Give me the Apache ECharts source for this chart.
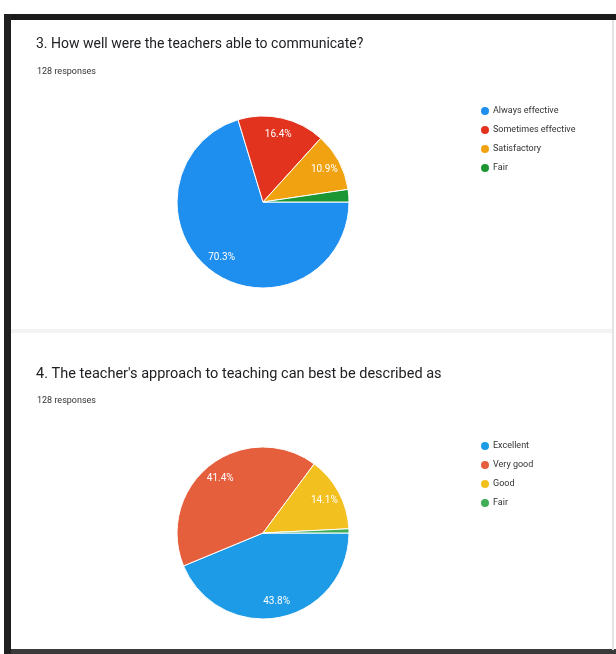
<!DOCTYPE html>
<html>
<head>
<meta charset="utf-8">
<script src="https://cdn.jsdelivr.net/npm/echarts@6/dist/echarts.min.js"></script>
<style>
html,body{margin:0;padding:0;background:#fff;}
#c{width:616px;height:654px;}
</style>
</head>
<body>
<div id="c"></div>
<script>
// Chart 1
var title1 = "3. How well were the teachers able to communicate?";
var sub1 = "128 responses";
var cats1 = ["Always effective", "Sometimes effective", "Satisfactory", "Fair"];
var vals1 = [90, 21, 14, 3];
var colors1 = ["#1f8fef", "#e2331f", "#f0a211", "#1b9632"];

// Chart 2
var title2 = "4. The teacher's approach to teaching can best be described as";
var sub2 = "128 responses";
var cats2 = ["Excellent", "Very good", "Good", "Fair"];
var vals2 = [56, 53, 18, 1];
var colors2 = ["#1e9be6", "#e65f3d", "#f2c01f", "#41ae57"];

function buildData(cats, vals, colors) {
  return cats.map(function (c, i) {
    return { name: c, value: vals[i], itemStyle: { color: colors[i] } };
  });
}
function total(vals) { return vals.reduce(function (a, b) { return a + b; }, 0); }

function pctLabel(vals) {
  var t = total(vals);
  return function (p) {
    var pct = p.value / t * 100;
    return pct < 5 ? '' : pct.toFixed(1) + '%';
  };
}

var chart = echarts.init(document.getElementById('c'), null, { renderer: 'canvas' });

function pieSeries(cats, vals, colors, center, r) {
  return [{
    type: 'pie',
    center: center,
    radius: [0, r],
    startAngle: 0,
    clockwise: true,
    avoidLabelOverlap: false,
    silent: true,
    label: { show: false },
    labelLine: { show: false },
    itemStyle: { borderColor: '#ffffff', borderWidth: 1 },
    data: buildData(cats, vals, colors)
  }, {
    type: 'pie',
    center: center,
    radius: [Math.round(r * 0.55), r],
    startAngle: 0,
    clockwise: true,
    avoidLabelOverlap: false,
    silent: true,
    legendHoverLink: false,
    label: {
      show: true, position: 'inside', color: '#ffffff',
      fontSize: 10, fontFamily: 'Roboto', formatter: pctLabel(vals)
    },
    labelLine: { show: false },
    itemStyle: { color: 'rgba(0,0,0,0)', borderWidth: 0 },
    emphasis: { disabled: true },
    data: cats.map(function (c, i) { return { name: c, value: vals[i] }; })
  }];
}

var option = {
  backgroundColor: '#ffffff',
  animation: false,
  title: [
    { text: title1, left: 31, top: 32, textStyle: { fontFamily: 'Roboto', fontSize: 14, fontWeight: 'normal', color: '#202124' } },
    { text: sub1, left: 32, top: 62, textStyle: { fontFamily: 'Roboto', fontSize: 9, fontWeight: 'normal', color: '#333' } },
    { text: title2, left: 31, top: 362, textStyle: { fontFamily: 'Roboto', fontSize: 14.5, fontWeight: 'normal', color: '#202124' } },
    { text: sub2, left: 32, top: 391, textStyle: { fontFamily: 'Roboto', fontSize: 9, fontWeight: 'normal', color: '#333' } }
  ],
  legend: [
    {
      seriesIndex: 0,
      data: cats1.map(function (c, i) { return { name: c, itemStyle: { color: colors1[i] } }; }),
      orient: 'vertical', left: 474, top: 100, icon: 'circle',
      itemWidth: 10, itemHeight: 10, itemGap: 7, selectedMode: false,
      textStyle: { fontFamily: 'Roboto', fontSize: 9, color: '#333', padding: [0, 0, 0, -2] }
    },
    {
      data: cats2.map(function (c, i) { return { name: c, itemStyle: { color: colors2[i] } }; }),
      orient: 'vertical', left: 474, top: 435, icon: 'circle',
      itemWidth: 10, itemHeight: 10, itemGap: 7, selectedMode: false,
      textStyle: { fontFamily: 'Roboto', fontSize: 9, color: '#333', padding: [0, 0, 0, -2] }
    }
  ],
  graphic: [
    { type: 'rect', shape: { x: 5, y: 14, width: 611, height: 6 }, style: { fill: '#1a1a1a' } },
    { type: 'rect', shape: { x: 4, y: 14, width: 7, height: 640 }, style: { fill: '#1f1f1f' } },
    { type: 'rect', shape: { x: 11, y: 649, width: 605, height: 5 }, style: { fill: '#3a3a3a' } },
    { type: 'rect', shape: { x: 612, y: 20, width: 2, height: 630 }, style: { fill: '#e4e4e4' } },
    { type: 'rect', shape: { x: 11, y: 329, width: 601, height: 4 }, style: { fill: '#f3f3f3' } }
  ],
  series: [].concat(
    pieSeries(cats1, vals1, colors1, [263, 202], 86),
    pieSeries(cats2, vals2, colors2, [263, 533], 86)
  )
};
chart.setOption(option);
</script>
</body>
</html>
